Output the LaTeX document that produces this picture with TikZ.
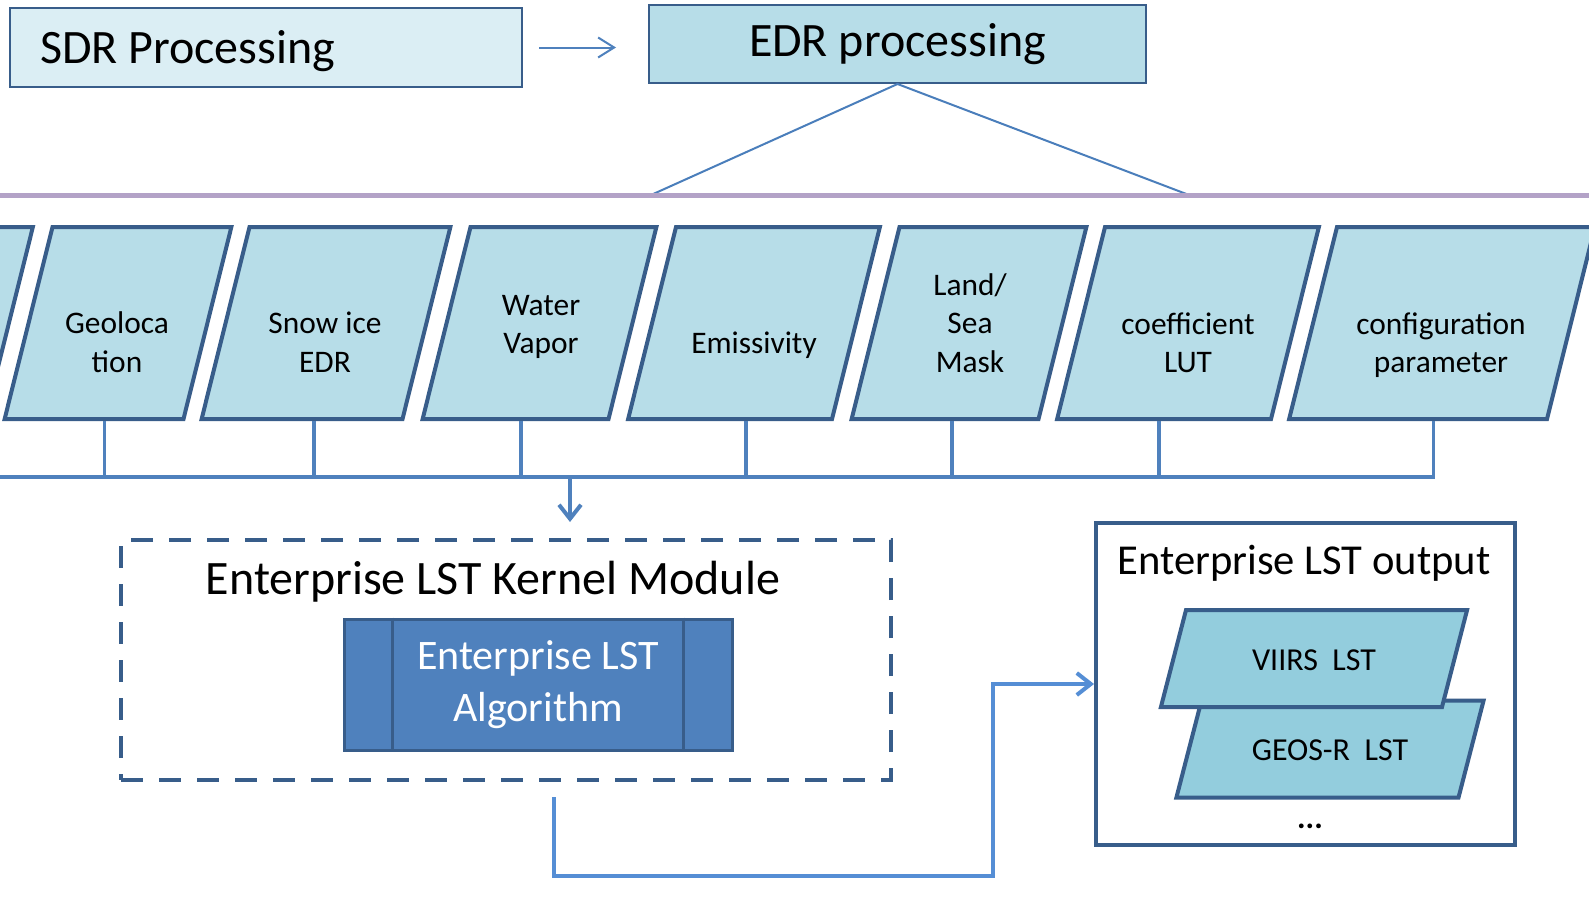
\documentclass[tikz,border=0pt]{standalone}
\usepackage{fontspec}
\setmainfont{Carlito}
\usetikzlibrary{shapes.geometric, arrows.meta, calc}
\definecolor{edgeblue}{RGB}{56, 93, 138}
\definecolor{filecyan}{RGB}{183, 221, 232}
\definecolor{sdrcyan}{RGB}{219, 238, 244}
\definecolor{outcyan}{RGB}{147, 205, 221}
\definecolor{algblue}{RGB}{79, 129, 189}
\definecolor{linkblue}{RGB}{74, 126, 187}
\definecolor{flowblue}{RGB}{85, 142, 213}
\definecolor{rulepurple}{RGB}{179, 162, 199}

\begin{document}
\begin{tikzpicture}[
    x=0.5pt, y=-0.5pt,
    stage/.style   = {rectangle, draw=edgeblue, line width=1pt,
                      font=\fontsize{24}{28}\selectfont},
    infile/.style  = {trapezium, trapezium left angle=76, trapezium right angle=104,
                      draw=edgeblue, line width=2pt, fill=filecyan,
                      inner sep=0pt, text height=96pt, text depth=0pt},
    lbl/.style     = {align=center, font=\fontsize{15.7}{19.25}\selectfont},
    outfile/.style = {trapezium, trapezium left angle=75.5, trapezium right angle=104.5,
                      draw=edgeblue, line width=2pt, fill=outcyan,
                      inner sep=0pt, text height=48.5pt, text depth=0pt,
                      font=\fontsize{16}{20}\selectfont},
    title/.style   = {anchor=base, font=\fontsize{24}{28}\selectfont},
    bus/.style     = {draw=algblue, line width=1.75pt},
    fan/.style     = {draw=linkblue, line width=1pt},
    thinarr/.style = {-{Straight Barb[length=8pt, width=10pt]}, draw=algblue, line width=1pt},
    feed/.style    = {-{Straight Barb[length=7pt, width=11pt]}, draw=algblue, line width=2pt},
    outflow/.style = {-{Straight Barb[length=7pt, width=11pt]}, draw=flowblue, line width=2pt},
  ]
  \useasboundingbox (0,0) rectangle (1589,910);
  \clip (0,0) rectangle (1589,910);

  %% Processing stages
  \node[stage, fill=sdrcyan, minimum height=39.5pt, inner xsep=15pt,
        text height=18pt, text depth=2.5pt] (sdr) at (266,47.5)
    {\makebox[226pt][l]{SDR Processing}};
  \node[stage, fill=filecyan, minimum width=248.5pt, minimum height=39pt] (edr) at (897.5,44) {EDR processing};
  \draw[thinarr, shorten <=8pt, shorten >=16pt] (sdr.east) -- (sdr.east -| edr.west);

  %% Fan out to the input row
  \coordinate (fanl) at (651,195);
  \coordinate (fanr) at (1189,195);
  \draw[fan] (fanl) -- (edr.south) -- (fanr);
  \coordinate (rulel) at (0,195);
  \coordinate (ruler) at (1589,195);
  \draw[draw=rulepurple, line width=2.5pt] (rulel) -- (ruler);

  %% Input files
  \node[infile, text width=71.5pt]  (prev)  at (-86.5,323) {};
  \node[infile, text width=65.5pt]  (geo)   at (118,323)   {};
  \node[infile, text width=76.5pt]  (snow)  at (326,323)   {};
  \node[infile, text width=69pt]    (water) at (539.5,323) {};
  \node[infile, text width=78pt]    (emis)  at (754,323)   {};
  \node[infile, text width=69.5pt]  (mask)  at (969,323)   {};
  \node[infile, text width=83pt]    (coef)  at (1188,323)  {};
  \node[infile, text width=105pt]   (cfg)   at (1442,323)  {};

  \node[lbl] (geo-t)   at (117,342)  {Geoloca\\tion};
  \node[lbl] (snow-t)  at (325,342)  {Snow ice\\EDR};
  \node[lbl] (water-t) at (541,327)  {Water\\Vapor};
  \node[lbl] (emis-t)  at (754,345)  {Emissivity};
  \node[lbl] (mask-t)  at (970,323)  {Land/\\Sea\\Mask};
  \node[lbl] (coef-t)  at (1188,343) {coefficient\\LUT};
  \node[lbl] (cfg-t)   at (1441,345) {configuration\\parameter};

  %% Collecting bus
  \coordinate (busleft) at (-10,477);
  \foreach \f/\r in {geo/0.56, snow/0.56, water/0.53, emis/0.58, mask/0.54, coef/0.48}
    \draw[bus] ($(\f.bottom left corner)!\r!(\f.bottom right corner)$) coordinate (\f-out)
      -- (\f-out |- busleft);
  \draw[bus] ($(cfg.bottom left corner)!0.56!(cfg.bottom right corner)$) coordinate (cfg-out)
    |- (busleft);

  %% Kernel module
  \node[draw=edgeblue, line width=2pt, dash pattern=on 11pt off 8pt,
        minimum width=385pt, minimum height=120pt] (kernel) at (506,660) {};
  \node[title] (kerneltitle) at (493,594) {Enterprise LST Kernel Module};
  \node[draw=edgeblue, line width=1.5pt, fill=algblue, text=white, align=center,
        minimum width=194pt, minimum height=65.5pt,
        font=\fontsize{21}{26}\selectfont] (alg) at (538,684.5) {Enterprise LST\\Algorithm};
  \draw[edgeblue, line width=1.5pt] ([xshift=25pt]alg.north west) -- ([xshift=25pt]alg.south west);
  \draw[edgeblue, line width=1.5pt] ([xshift=-25pt]alg.north east) -- ([xshift=-25pt]alg.south east);

  \coordinate (busdrop) at (570,477);
  \draw[feed, shorten >=8pt] (busdrop) -- (busdrop |- kernel.north);

  %% Output
  \node[draw=edgeblue, line width=2pt, fill=white,
        minimum width=209.5pt, minimum height=161pt] (out) at (1305.5,684) {};
  \node[title, font=\fontsize{21.3}{25}\selectfont] (outtitle) at (1304,574) {Enterprise LST output};
  \node[outfile, text width=128.5pt] (geos)  at (1330,749)   {};
  \node[outfile, text width=128pt]   (viirs) at (1314,658.5) {};
  \node[font=\fontsize{16}{20}\selectfont] (geos-t)  at (1330,750) {GEOS-R\ \ LST};
  \node[font=\fontsize{16}{20}\selectfont] (viirs-t) at (1314,660) {VIIRS\ \ LST};
  \node[anchor=base, font=\fontsize{16}{20}\selectfont\bfseries] (more) at (1310,828) {...};

  \coordinate (kernelout) at (554,797);
  \coordinate (outturn) at (993,876);
  \draw[outflow] (kernelout) |- (outturn) |- (out.west);

\end{tikzpicture}
\end{document}
